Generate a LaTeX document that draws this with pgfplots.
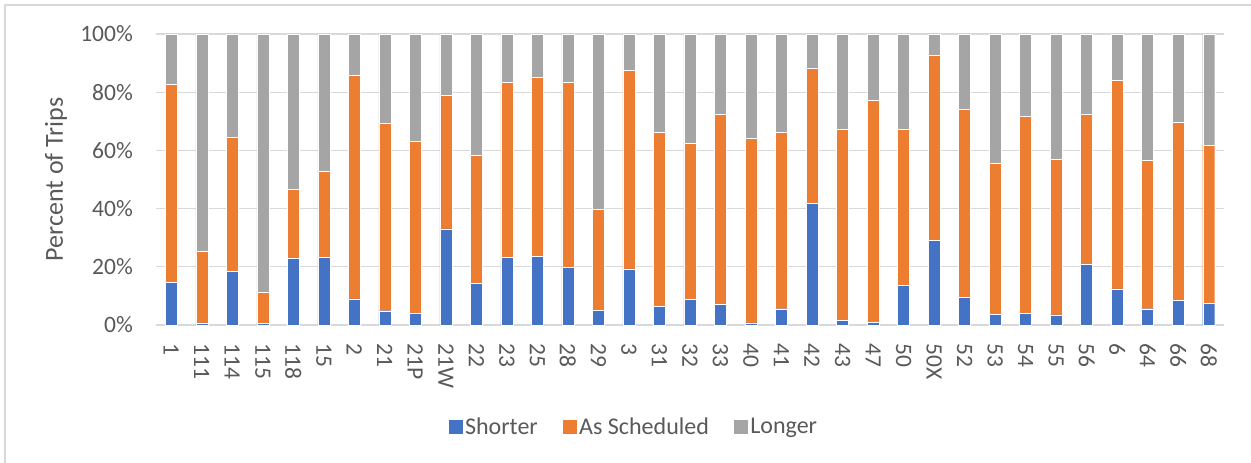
\documentclass[border=0pt]{standalone}
\usepackage{fontspec}
\setmainfont{Carlito}
\usepackage{pgfplots}
\pgfplotsset{compat=1.18}
\usepackage{pgfplotstable}
\definecolor{cblue}{HTML}{4472C4}
\definecolor{corange}{HTML}{ED7D31}
\definecolor{cgray}{HTML}{A5A5A5}
\definecolor{gridgray}{HTML}{D9D9D9}
\definecolor{textgray}{HTML}{595959}

\pgfplotstableread{
x S A L
0 14.6 68.0 17.4
1 0.7 24.5 74.8
2 18.4 46.0 35.6
3 0.5 10.7 88.8
4 23.0 23.6 53.4
5 23.2 29.5 47.3
6 9.0 76.8 14.2
7 4.9 64.3 30.8
8 4.0 59.0 37.0
9 33.0 45.8 21.2
10 14.2 44.2 41.6
11 23.2 60.1 16.7
12 23.6 61.4 15.0
13 19.8 63.6 16.6
14 5.0 34.8 60.2
15 19.3 68.2 12.5
16 6.5 59.6 33.9
17 8.8 53.7 37.5
18 7.2 65.1 27.7
19 0.7 63.4 35.9
20 5.6 60.5 33.9
21 41.8 46.6 11.6
22 1.7 65.6 32.7
23 0.9 76.3 22.8
24 13.7 53.6 32.7
25 29.1 63.7 7.2
26 9.6 64.4 26.0
27 3.7 51.9 44.4
28 4.1 67.5 28.4
29 3.5 53.5 43.0
30 20.9 51.4 27.7
31 12.4 71.7 15.9
32 5.6 51.0 43.4
33 8.5 61.1 30.4
34 7.4 54.3 38.3
}\data

\begin{document}
\begin{tikzpicture}
\begin{axis}[
  scale only axis,
  width=1068bp, height=291bp,
  ybar stacked, bar width=12bp,
  xmin=-0.5, xmax=34.5, ymin=0, ymax=100,
  axis line style={draw=none},
  major tick length=0pt,
  tick style={draw=none},
  ymajorgrids, grid style={gridgray, line width=1.3bp},
  xtick={0,...,34},
  xticklabels={1,111,114,115,118,15,2,21,21P,21W,22,23,25,28,29,3,31,32,33,40,41,42,43,47,50,50X,52,53,54,55,56,6,64,66,68},
  ytick={0,20,40,60,80,100},
  yticklabels={0\%,20\%,40\%,60\%,80\%,100\%},
  x tick label style={rotate=-90, anchor=west, inner xsep=18bp, inner ysep=0pt, text=textgray, font=\fontsize{23.5bp}{28bp}\selectfont},
  y tick label style={anchor=east, inner xsep=23bp, inner ysep=0pt, text=textgray, font=\fontsize{23.5bp}{28bp}\selectfont},
  ylabel={Percent of Trips},
  ylabel style={at={(axis description cs:-0.0936,0.5)}, anchor=center, text=textgray, font=\fontsize{26bp}{30bp}\selectfont},
  legend style={draw=none, fill=none, at={(axis description cs:0.447,-0.3505)}, anchor=center, legend columns=-1, font=\fontsize{24bp}{28bp}\selectfont, text=textgray, /tikz/every even column/.append style={column sep=22bp}},
  legend image code/.code={\fill[#1] (0bp,-7.5bp) rectangle (15bp,7.5bp);},
]
\addplot[fill=cblue, draw=white, line width=0.4bp] table[x=x,y=S]{\data};
\addplot[fill=corange, draw=white, line width=0.4bp] table[x=x,y=A]{\data};
\addplot[fill=cgray, draw=white, line width=0.4bp] table[x=x,y=L]{\data};
\legend{Shorter, As Scheduled, Longer}
\end{axis}
\draw[gridgray, line width=1.5bp] ([shift={(-151bp,-140bp)}]current axis.south west) -- ([shift={(-151bp,320bp)}]current axis.south west) -- ([shift={(1100bp,320bp)}]current axis.south west);
\pgfresetboundingbox
\path[use as bounding box] ([shift={(-156bp,-138bp)}]current axis.south west) rectangle ([shift={(1095bp,325bp)}]current axis.south west);
\end{tikzpicture}
\end{document}
